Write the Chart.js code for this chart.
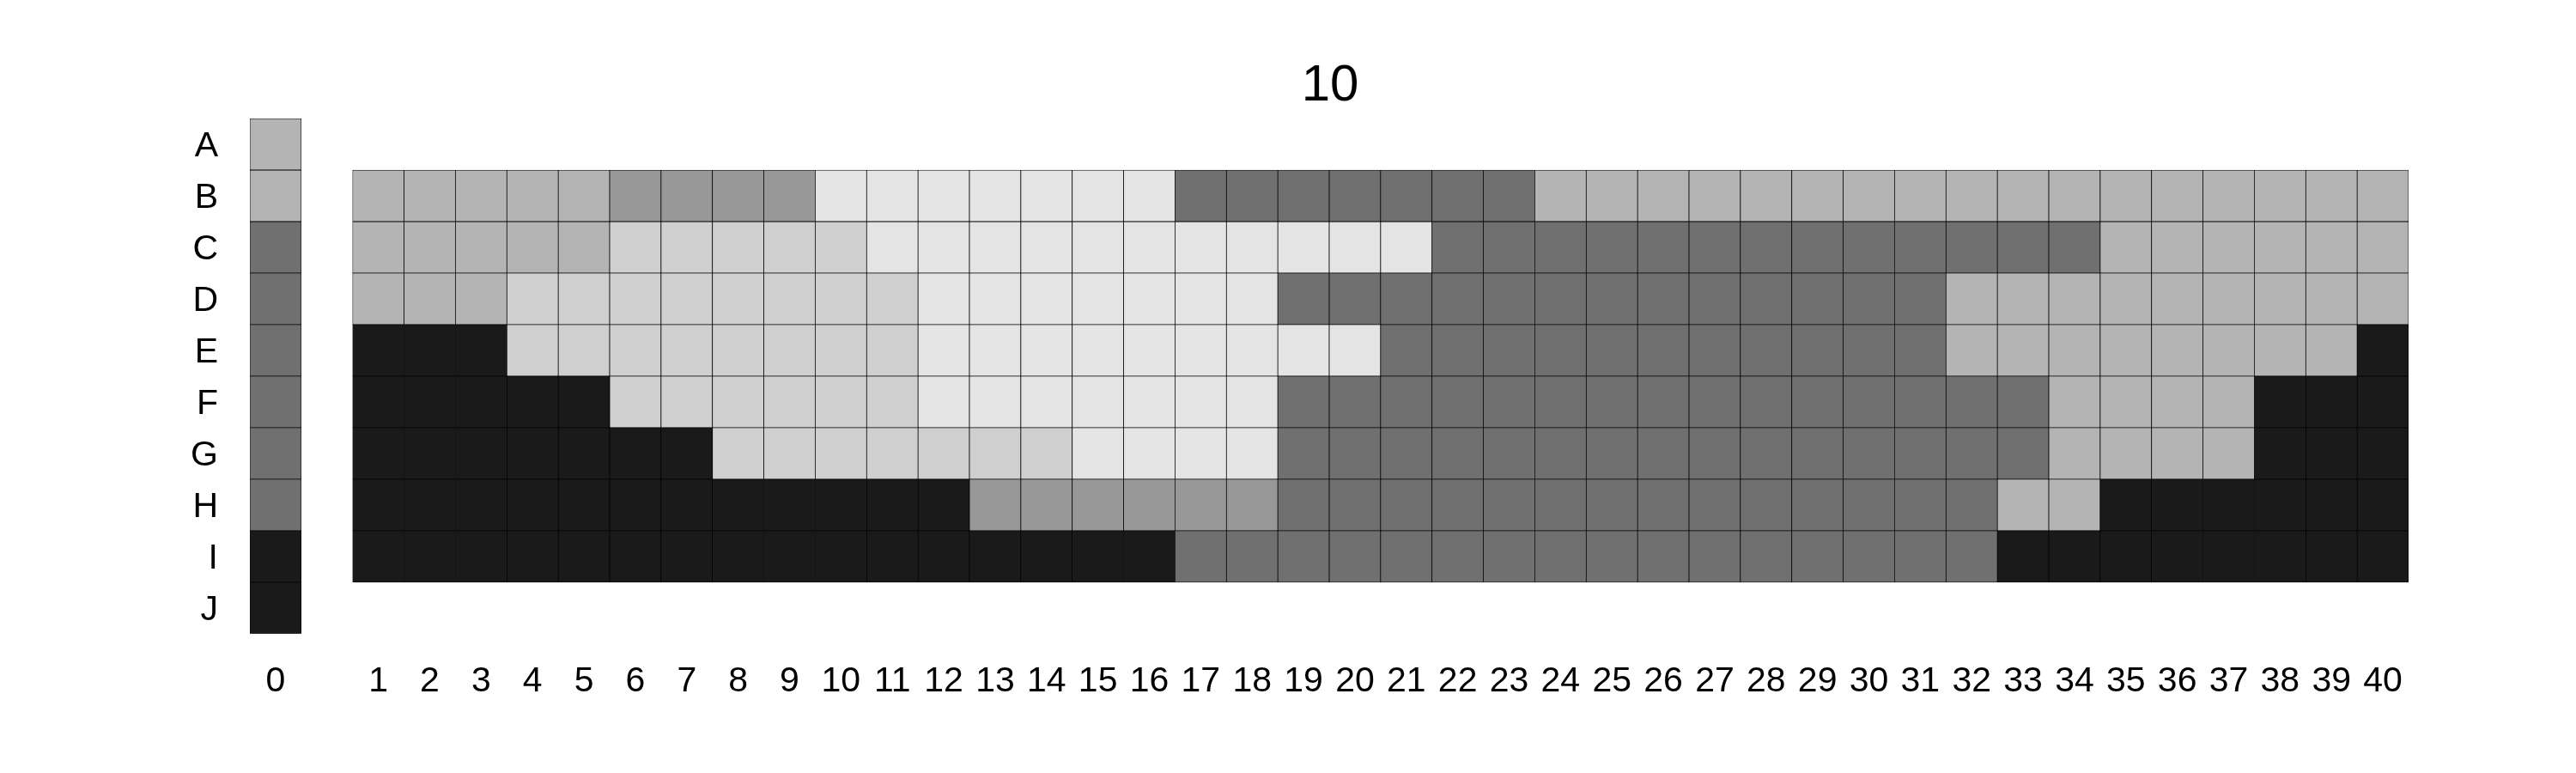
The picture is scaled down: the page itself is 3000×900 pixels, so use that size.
<!DOCTYPE html>
<html lang="en">
<head>
    <title>10</title>
    <script src="https://cdn.jsdelivr.net/npm/chart.js"></script>
    <style>
        body { margin: 0; background: #fff; }
        #wrap { width: 3000px; height: 900px; }
    </style>
</head>
<body>
<div id="wrap">
    <canvas id="gridChart"></canvas>
</div>

<script>
    // row and column labels
    const rowLabels = ['A', 'B', 'C', 'D', 'E', 'F', 'G', 'H', 'I', 'J'];
    const colLabels = ['0', '',
        '1', '2', '3', '4', '5', '6', '7', '8', '9', '10',
        '11', '12', '13', '14', '15', '16', '17', '18', '19', '20',
        '21', '22', '23', '24', '25', '26', '27', '28', '29', '30',
        '31', '32', '33', '34', '35', '36', '37', '38', '39', '40'];

    // grey levels: 0 = darkest ... 5 = lightest
    const shades = ['#1a1a1a', '#707070', '#989898', '#b4b4b4', '#cfcfcf', '#e4e4e4'];

    // column 0, rows A..J
    const col0 = [3, 3, 1, 1, 1, 1, 1, 1, 0, 0];

    // columns 1..40, rows B..I
    const rowB = [3, 3, 3, 3, 3, 2, 2, 2, 2, 5, 5, 5, 5, 5, 5, 5, 1, 1, 1, 1,
                  1, 1, 1, 3, 3, 3, 3, 3, 3, 3, 3, 3, 3, 3, 3, 3, 3, 3, 3, 3];
    const rowC = [3, 3, 3, 3, 3, 4, 4, 4, 4, 4, 5, 5, 5, 5, 5, 5, 5, 5, 5, 5,
                  5, 1, 1, 1, 1, 1, 1, 1, 1, 1, 1, 1, 1, 1, 3, 3, 3, 3, 3, 3];
    const rowD = [3, 3, 3, 4, 4, 4, 4, 4, 4, 4, 4, 5, 5, 5, 5, 5, 5, 5, 1, 1,
                  1, 1, 1, 1, 1, 1, 1, 1, 1, 1, 1, 3, 3, 3, 3, 3, 3, 3, 3, 3];
    const rowE = [0, 0, 0, 4, 4, 4, 4, 4, 4, 4, 4, 5, 5, 5, 5, 5, 5, 5, 5, 5,
                  1, 1, 1, 1, 1, 1, 1, 1, 1, 1, 1, 3, 3, 3, 3, 3, 3, 3, 3, 0];
    const rowF = [0, 0, 0, 0, 0, 4, 4, 4, 4, 4, 4, 5, 5, 5, 5, 5, 5, 5, 1, 1,
                  1, 1, 1, 1, 1, 1, 1, 1, 1, 1, 1, 1, 1, 3, 3, 3, 3, 0, 0, 0];
    const rowG = [0, 0, 0, 0, 0, 0, 0, 4, 4, 4, 4, 4, 4, 4, 5, 5, 5, 5, 1, 1,
                  1, 1, 1, 1, 1, 1, 1, 1, 1, 1, 1, 1, 1, 3, 3, 3, 3, 0, 0, 0];
    const rowH = [0, 0, 0, 0, 0, 0, 0, 0, 0, 0, 0, 0, 2, 2, 2, 2, 2, 2, 1, 1,
                  1, 1, 1, 1, 1, 1, 1, 1, 1, 1, 1, 1, 3, 3, 0, 0, 0, 0, 0, 0];
    const rowI = [0, 0, 0, 0, 0, 0, 0, 0, 0, 0, 0, 0, 0, 0, 0, 0, 1, 1, 1, 1,
                  1, 1, 1, 1, 1, 1, 1, 1, 1, 1, 1, 1, 0, 0, 0, 0, 0, 0, 0, 0];

    const gridRows = [null, rowB, rowC, rowD, rowE, rowF, rowG, rowH, rowI, null];

    const labelFont = { family: "'Liberation Sans', Arial, sans-serif", size: 41 };

    // one dataset per row, each cell a floating bar spanning the row
    const datasets = rowLabels.map((name, r) => {
        const cells = [col0[r], null].concat(gridRows[r] || new Array(40).fill(null));
        return {
            label: name,
            data: cells.map(v => v === null ? null : [r - 0.5, r + 0.5]),
            backgroundColor: cells.map(v => v === null ? 'rgba(0,0,0,0)' : shades[v]),
            borderColor: '#000',
            borderWidth: 0.75,
            borderSkipped: false,
            grouped: false,
            barPercentage: 1,
            categoryPercentage: 1
        };
    });

    const ctx = document.getElementById('gridChart').getContext('2d');
    new Chart(ctx, {
        type: 'bar',
        data: {
            labels: colLabels,
            datasets: datasets
        },
        options: {
            responsive: true,
            maintainAspectRatio: false,
            animation: false,
            layout: {
                padding: { left: 98, right: 0, top: 64, bottom: 51 }
            },
            plugins: {
                legend: { display: false },
                tooltip: { enabled: false },
                title: {
                    display: true,
                    text: '10',
                    color: '#000',
                    font: { family: "'Liberation Sans', Arial, sans-serif", size: 60, weight: 'normal' },
                    padding: { top: 0, bottom: 2 }
                }
            },
            scales: {
                x: {
                    type: 'category',
                    grid: { display: false, drawTicks: false },
                    border: { display: false },
                    ticks: {
                        color: '#000',
                        font: labelFont,
                        padding: 31,
                        maxRotation: 0,
                        autoSkip: false
                    }
                },
                y: {
                    type: 'linear',
                    min: -0.5,
                    max: 9.5,
                    reverse: true,
                    grid: { display: false, drawTicks: false },
                    border: { display: false },
                    afterBuildTicks: scale => {
                        scale.ticks = rowLabels.map((_, i) => ({ value: i }));
                    },
                    afterFit: scale => { scale.width = 193; },
                    ticks: {
                        color: '#000',
                        font: labelFont,
                        padding: 37,
                        labelOffset: 3,
                        autoSkip: false,
                        callback: value => rowLabels[value]
                    }
                },
                // empty right-hand axis, only to keep space at the right
                yRight: {
                    type: 'linear',
                    position: 'right',
                    grid: { display: false, drawTicks: false },
                    border: { display: false },
                    ticks: { display: false },
                    afterFit: scale => { scale.width = 195; }
                }
            }
        }
    });
</script>
</body>
</html>
